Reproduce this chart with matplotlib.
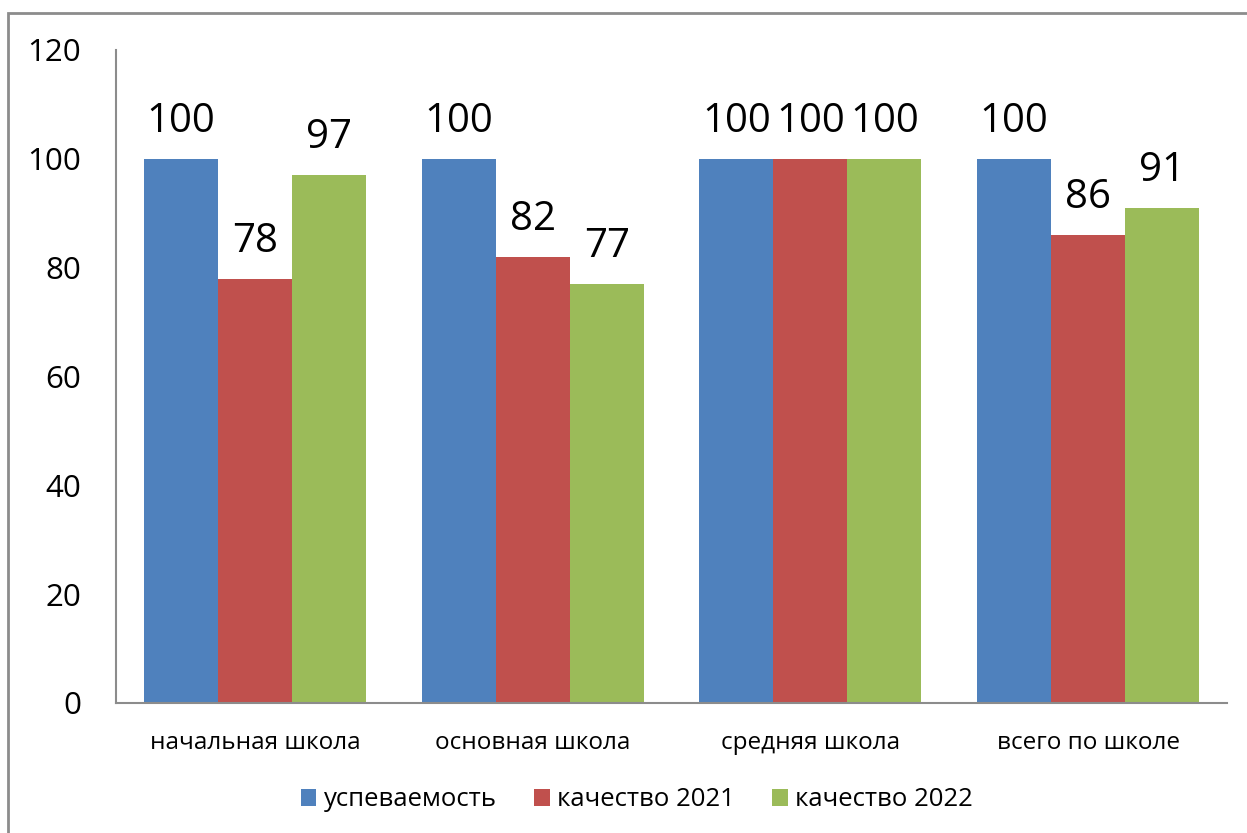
import matplotlib
matplotlib.use("Agg")
import matplotlib.pyplot as plt
from matplotlib.patches import Rectangle
import numpy as np

plt.rcParams['font.family'] = ['Open Sans', 'DejaVu Sans']

categories = ["начальная школа", "основная школа", "средняя школа", "всего по школе"]
series_names = ["успеваемость", "качество 2021", "качество 2022"]
uspevaemost = [100, 100, 100, 100]
kachestvo_2021 = [78, 82, 100, 86]
kachestvo_2022 = [97, 77, 100, 91]
colors = ["#4f81bd", "#c0504d", "#9bbb59"]

fig = plt.figure(figsize=(12.47, 8.33), dpi=100)
ax = fig.add_axes([116 / 1247, 130 / 833, 1111 / 1247, 653 / 833])

# outer chart border
fig.patches.append(Rectangle((8 / 1247, -0.05), 1.1, (833 - 13) / 833 + 0.05,
                             transform=fig.transFigure, fill=False,
                             edgecolor="#8c8c8c", linewidth=2))

x = np.arange(len(categories))
w = 1 / 3.75
for i, (vals, name) in enumerate(zip([uspevaemost, kachestvo_2021, kachestvo_2022], series_names)):
    bars = ax.bar(x + (i - 1) * w, vals, width=w, color=colors[i], label=name)
    ax.bar_label(bars, padding=12, fontsize=29)

ax.set_xlim(-0.5, len(categories) - 0.5)
ax.set_ylim(0, 120)
ax.set_yticks(range(0, 121, 20))
ax.set_xticks(x)
ax.set_xticklabels(categories)
ax.tick_params(axis="y", length=0, pad=25, labelsize=22.5)
ax.tick_params(axis="x", length=0, pad=20, labelsize=17.5)

for s in ["top", "right"]:
    ax.spines[s].set_visible(False)
for s in ["left", "bottom"]:
    ax.spines[s].set_color("#8c8c8c")
    ax.spines[s].set_linewidth(1.5)

fig.legend(loc="center", bbox_to_anchor=(637 / 1247, 1 - 800 / 833), ncol=3, frameon=False,
           fontsize=18.5, handlelength=0.6, handleheight=0.6, handletextpad=0.3,
           columnspacing=1.45)

fig.savefig("out.png", dpi=100)
